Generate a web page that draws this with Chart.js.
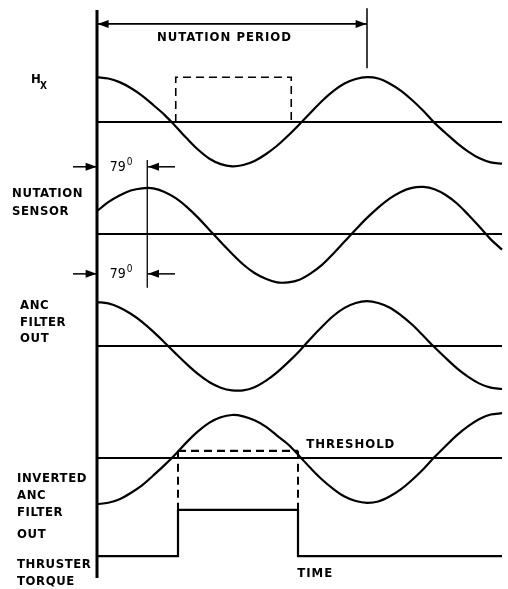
<!DOCTYPE html>
<html>
<head>
<meta charset="utf-8">
<script src="https://cdn.jsdelivr.net/npm/chart.js@4.4.1/dist/chart.umd.min.js"></script>
<style>
  html, body { margin: 0; padding: 0; background: #fff; }
</style>
</head>
<body>
<canvas id="timing" width="508" height="589"></canvas>
<script>
// time axis in degrees of nutation phase (one nutation period = 360)
const phase = [0, 15, 30, 45, 60, 75, 90, 105, 120, 135, 150, 165, 180, 195, 210, 225, 240, 255, 270,
               285, 300, 315, 330, 345, 360, 375, 390, 405, 420, 435, 450, 465, 480, 495, 510, 525, 540];

// signal values (1 unit = one signal amplitude)
const hx = [1.00, 0.97, 0.89, 0.76, 0.59, 0.38, 0.16, -0.10, -0.37, -0.62, -0.82, -0.94, -0.99, -0.96, -0.87, -0.72, -0.53, -0.30, -0.05,
            0.21, 0.47, 0.69, 0.86, 0.96, 1.00, 0.97, 0.86, 0.70, 0.49, 0.25, -0.02, -0.25, -0.47, -0.66, -0.81, -0.90, -0.93];
const nutationSensor = [0.51, 0.71, 0.86, 0.97, 1.02, 1.02, 0.94, 0.80, 0.60, 0.36, 0.09, -0.18, -0.44, -0.68, -0.87, -1.00, -1.08, -1.08, -1.02,
            -0.88, -0.69, -0.44, -0.17, 0.10, 0.36, 0.59, 0.79, 0.94, 1.03, 1.05, 1.00, 0.87, 0.68, 0.43, 0.16, -0.12, -0.35];
const ancFilterOut = [0.98, 0.95, 0.86, 0.72, 0.54, 0.32, 0.08, -0.17, -0.41, -0.63, -0.81, -0.93, -0.99, -0.99, -0.92, -0.78, -0.59, -0.36, -0.11,
            0.17, 0.43, 0.67, 0.85, 0.96, 1.00, 0.96, 0.86, 0.69, 0.48, 0.23, -0.03, -0.27, -0.50, -0.69, -0.84, -0.93, -0.96];
const invertedAnc = [-1.03, -1.00, -0.92, -0.78, -0.61, -0.39, -0.16, 0.09, 0.36, 0.60, 0.79, 0.91, 0.96, 0.93, 0.84, 0.70, 0.50, 0.30, 0.04,
            -0.23, -0.48, -0.69, -0.86, -0.96, -1.00, -0.97, -0.86, -0.70, -0.49, -0.25, 0.02, 0.27, 0.51, 0.71, 0.87, 0.97, 1.00];

// thruster torque: off / on / off
const torqueTimes  = [0, 108, 268, 540];
const torqueLevels = [0, 1, 0, 0];

const hxWindow        = [105, 259];   // dashed pulse over Hx
const thresholdLevel  = 0.16;
const thresholdWindow = [108, 268];
const nutationPeriod  = 360;
const sensorPeak      = 67;            // marked "79°" in the drawing
const phaseLabel      = '79';
const traceEnd        = 540;

// layout: where each trace sits on the shared vertical scale
const traceBase   = { hx: 0, sensor: -2.5, anc: -5, inv: -7.5, torque: -9.69 };
const torqueOnHeight = 1.03;
const PX_PER_DEG = 0.75, PX_PER_UNIT = 44.8, AXIS_PX = 97, ZERO_PX = 122;
const W = 508, H = 589;

function trace(values, base) {
  return phase.map((x, i) => ({ x: x, y: base + values[i] }));
}
function seg(points, extra) {
  return Object.assign({
    data: points.map(p => ({ x: p[0], y: p[1] })),
    borderColor: '#000', borderWidth: 1.8, pointRadius: 0, fill: false, clip: false, tension: 0
  }, extra || {});
}
function curve(values, base) {
  return {
    data: trace(values, base), borderColor: '#000', borderWidth: 2.2, pointRadius: 0,
    fill: false, tension: 0.35, clip: false
  };
}

const tb = traceBase;
const datasets = [
  // vertical time-origin axis
  seg([[0, 2.5], [0, -10.18]], { borderWidth: 3 }),
  // baselines
  seg([[0, tb.hx], [traceEnd, tb.hx]]),
  seg([[0, tb.sensor], [traceEnd, tb.sensor]]),
  seg([[0, tb.anc], [traceEnd, tb.anc]]),
  seg([[0, tb.inv], [traceEnd, tb.inv]]),
  // signals
  curve(hx, tb.hx),
  curve(nutationSensor, tb.sensor),
  curve(ancFilterOut, tb.anc),
  curve(invertedAnc, tb.inv),
  // thruster torque
  {
    data: torqueTimes.map((x, i) => ({ x: x, y: tb.torque + torqueLevels[i] * torqueOnHeight })),
    borderColor: '#000', borderWidth: 2.2, pointRadius: 0, stepped: 'before', fill: false, clip: false
  },
  // dashed pulse over Hx
  seg([[hxWindow[0], tb.hx], [hxWindow[0], tb.hx + 1], [hxWindow[1], tb.hx + 1], [hxWindow[1], tb.hx]],
      { borderDash: [8, 5], borderWidth: 1.6 }),
  // threshold and its drop lines
  seg([[thresholdWindow[0], tb.inv + thresholdLevel], [thresholdWindow[1], tb.inv + thresholdLevel]],
      { borderDash: [8, 5], borderWidth: 2.2 }),
  seg([[thresholdWindow[0], tb.inv + thresholdLevel], [thresholdWindow[0], tb.torque + torqueOnHeight]],
      { borderDash: [8, 5], borderWidth: 2 }),
  seg([[thresholdWindow[1], tb.inv + thresholdLevel], [thresholdWindow[1], tb.torque + torqueOnHeight]],
      { borderDash: [8, 5], borderWidth: 2 }),
  // nutation period dimension
  seg([[0, 2.19], [nutationPeriod, 2.19]], { borderWidth: 1.8 }),
  seg([[nutationPeriod, 2.54], [nutationPeriod, 1.2]], { borderWidth: 1.5 }),
  // 79 deg phase marker
  seg([[sensorPeak, -0.85], [sensorPeak, -3.7]], { borderWidth: 1.3 }),
  seg([[-32, -1.0], [0, -1.0]], { borderWidth: 1.5 }),
  seg([[sensorPeak, -1.0], [sensorPeak + 37, -1.0]], { borderWidth: 1.5 }),
  seg([[-32, -3.39], [0, -3.39]], { borderWidth: 1.5 }),
  seg([[sensorPeak, -3.39], [sensorPeak + 37, -3.39]], { borderWidth: 1.5 })
];

const FONT = 'bold 13px "DejaVu Sans Condensed", "DejaVu Sans", sans-serif';
const sideLabels = [
  ['NUTATION', 12, 194], ['SENSOR', 12, 212],
  ['ANC', 20, 306], ['FILTER', 20, 323], ['OUT', 20, 339],
  ['INVERTED', 17, 479], ['ANC', 17, 496], ['FILTER', 17, 513], ['OUT', 17, 535],
  ['THRUSTER', 17, 565], ['TORQUE', 17, 582]
];

const annotate = {
  id: 'annotate',
  afterDatasetsDraw(chart) {
    const ctx = chart.ctx, xs = chart.scales.x, ys = chart.scales.y;
    const px = v => xs.getPixelForValue(v), py = v => ys.getPixelForValue(v);
    function arrow(x, y, dir) {
      const tx = px(x), ty = py(y), len = 11, hw = 4;
      ctx.beginPath();
      ctx.moveTo(tx, ty);
      ctx.lineTo(tx - dir * len, ty - hw);
      ctx.lineTo(tx - dir * len, ty + hw);
      ctx.closePath();
      ctx.fill();
    }
    ctx.save();
    ctx.fillStyle = '#000';
    arrow(0.8, 2.19, -1);
    arrow(nutationPeriod - 0.5, 2.19, 1);
    arrow(-0.5, -1.0, 1);
    arrow(sensorPeak + 1, -1.0, -1);
    arrow(-0.5, -3.39, 1);
    arrow(sensorPeak + 1, -3.39, -1);

    ctx.font = FONT;
    ctx.letterSpacing = '0.6px';
    ctx.textBaseline = 'middle';
    ctx.textAlign = 'left';
    sideLabels.forEach(l => ctx.fillText(l[0], l[1], l[2]));
    // H with subscript x
    ctx.fillText('H', 31, 80);
    ctx.font = 'bold 10px "DejaVu Sans Condensed", "DejaVu Sans", sans-serif';
    ctx.fillText('X', 40, 86);

    ctx.font = FONT;
    ctx.letterSpacing = '1px';
    ctx.fillText('NUTATION PERIOD', px(80), py(1.88));
    ctx.fillText('THRESHOLD', px(279), py(tb.inv + 0.3));
    ctx.fillText('TIME', px(267), py(tb.torque - 0.38));

    ctx.letterSpacing = '0px';
    [-1.0, -3.39].forEach(yv => {
      ctx.font = '14px "DejaVu Sans Condensed", "DejaVu Sans", sans-serif';
      ctx.fillText(phaseLabel, px(17), py(yv) + 0.5);
      ctx.font = '10px "DejaVu Sans Condensed", "DejaVu Sans", sans-serif';
      ctx.fillText('0', px(17) + 17, py(yv) - 4);
    });
    ctx.restore();
  }
};

new Chart(document.getElementById('timing').getContext('2d'), {
  type: 'line',
  data: { datasets: datasets },
  options: {
    responsive: false,
    devicePixelRatio: 1,
    animation: false,
    layout: { padding: 0 },
    plugins: { legend: { display: false }, tooltip: { enabled: false } },
    scales: {
      x: { type: 'linear', display: false, min: -AXIS_PX / PX_PER_DEG, max: (W - AXIS_PX) / PX_PER_DEG },
      y: { type: 'linear', display: false, min: -(H - ZERO_PX) / PX_PER_UNIT, max: ZERO_PX / PX_PER_UNIT }
    }
  },
  plugins: [annotate]
});
</script>
</body>
</html>
